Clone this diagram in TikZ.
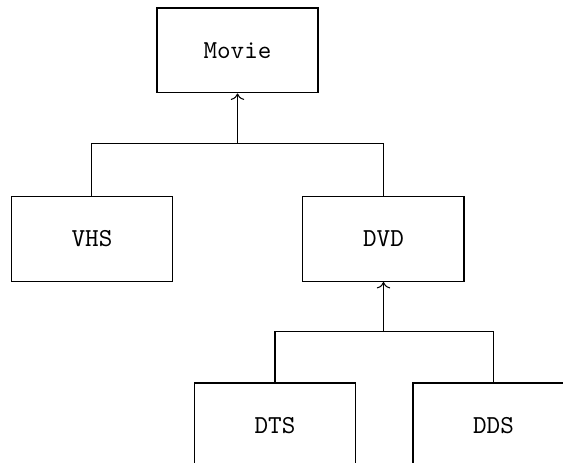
\documentclass[tikz,border=0pt]{standalone}
\usepackage{tikz}
\usetikzlibrary{arrows.meta,positioning,calc}

\tikzset{
  classbox/.style={draw,rectangle,minimum width=2.185cm,minimum height=1.153cm,
    inner sep=0pt,font=\ttfamily},
  link/.style={line width=0.4pt},
}

\begin{document}
\begin{tikzpicture}[x=1cm,y=1cm]
  % page frame (reference proportions), boxes at the bottom run off the edge
  \useasboundingbox (0,0) rectangle (7.64,6.283);
  \clip (0,0) rectangle (7.64,6.283);
  % class boxes
  \node[classbox] (movie) at (3.223,5.598) {Movie};
  \node[classbox] (vhs)   at (1.248,3.040) {VHS};
  \node[classbox] (dvd)   at (5.204,3.040) {DVD};
  \node[classbox] (dts)   at (3.732,0.509) {DTS};
  \node[classbox] (dds)   at (6.697,0.509) {DDS};
  % junctions on the horizontal bars
  \coordinate (j1) at (movie.south |- 0,4.342);
  \coordinate (j2) at (dvd.south |- 0,1.778);
  % first level: VHS, DVD -> Movie
  \draw[link] (vhs.north) |- (j1) -| (dvd.north);
  \draw[link,->] (j1) -- (movie.south);
  % second level: DTS, DDS -> DVD
  \draw[link] (dts.north) |- (j2) -| (dds.north);
  \draw[link,->] (j2) -- (dvd.south);
\end{tikzpicture}
\end{document}
